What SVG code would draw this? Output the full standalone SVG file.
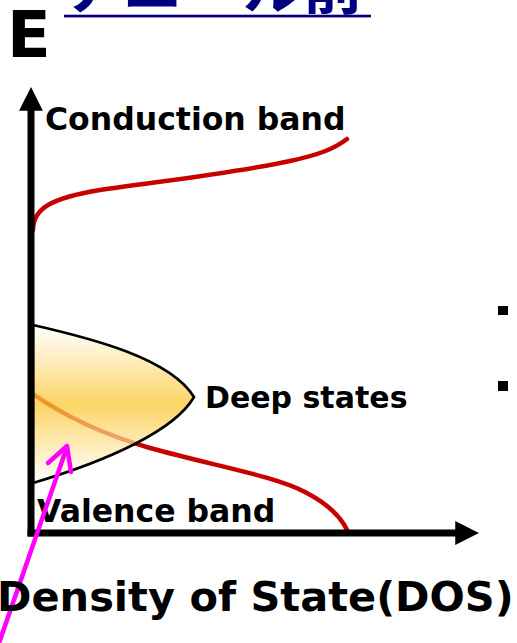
<svg xmlns="http://www.w3.org/2000/svg" width="517" height="643" viewBox="0 0 517 643">
  <defs>
    <linearGradient id="deepFill" x1="0" y1="325" x2="0" y2="483" gradientUnits="userSpaceOnUse">
      <stop offset="0" stop-color="#FFFFFF" stop-opacity="0.7"/>
      <stop offset="0.5" stop-color="#FBC631" stop-opacity="0.75"/>
      <stop offset="1" stop-color="#FFFFFF" stop-opacity="0.7"/>
    </linearGradient>
    <marker id="axisHead" viewBox="0 0 10 10" refX="2" refY="5" markerWidth="3.4" markerHeight="3.4" markerUnits="strokeWidth" orient="auto">
      <path d="M0,0 L10,5 L0,10 Z" fill="#000"/>
    </marker>
  </defs>
  <style>
    .lbl { font-family: "DejaVu Sans", Verdana, sans-serif; font-weight: bold; fill: #000; }
    .band { fill: none; stroke: #C80000; stroke-width: 4.5; stroke-linecap: round; }
    .axis { fill: none; stroke: #000; stroke-width: 7; }
  </style>
  <rect width="517" height="643" fill="#FFFFFF"/>

  <g id="title">
    <text x="64" y="9" font-family="'Noto Sans CJK JP', sans-serif" font-weight="bold" font-size="60" fill="#000080">アニール前</text>
    <rect x="64" y="14.7" width="307" height="2.7" fill="#000080"/>
  </g>

  <g id="axis-label-E">
    <text class="lbl" x="7" y="57" font-size="64">E</text>
  </g>

  <g id="conduction-band">
    <path class="band" d="M33,230 C33,208 52,198 100,190 C170,180 240,172 290,161 C318,155 334,149 347,139"/>
    <text class="lbl" x="45" y="130" font-size="31.5">Conduction band</text>
  </g>

  <g id="valence-band">
    <path class="band" d="M33,394 C60,413 95,432 150,448 C215,466 275,476 305,492 C328,504 341,517 347,530"/>
    <text class="lbl" x="37" y="522" font-size="31.5">Valence band</text>
  </g>

  <g id="deep-states">
    <path d="M33,325 C90,338 170,358 194,397 C175,430 110,460 33,483 Z" fill="url(#deepFill)" stroke="#000" stroke-width="2.6"/>
    <text class="lbl" x="205" y="408" font-size="30">Deep states</text>
  </g>

  <g id="connectors">
    <line class="axis" x1="31" y1="536.5" x2="31" y2="106" marker-end="url(#axisHead)"/>
    <line class="axis" x1="27.5" y1="533" x2="460" y2="533" marker-end="url(#axisHead)"/>
    <line x1="67" y1="447" x2="-2" y2="646" stroke="#FF00FF" stroke-width="4.5"/>
    <polyline points="48,463 67,446 71,472" fill="none" stroke="#FF00FF" stroke-width="4.5" stroke-linecap="round" stroke-linejoin="round"/>
  </g>

  <g id="x-axis-label">
    <text class="lbl" x="-3" y="611" font-size="41.5">Density of State(DOS)</text>
  </g>

  <g id="bullets">
    <rect x="498" y="306" width="10" height="9" fill="#000"/>
    <rect x="498" y="381" width="10" height="10" fill="#000"/>
  </g>
</svg>
